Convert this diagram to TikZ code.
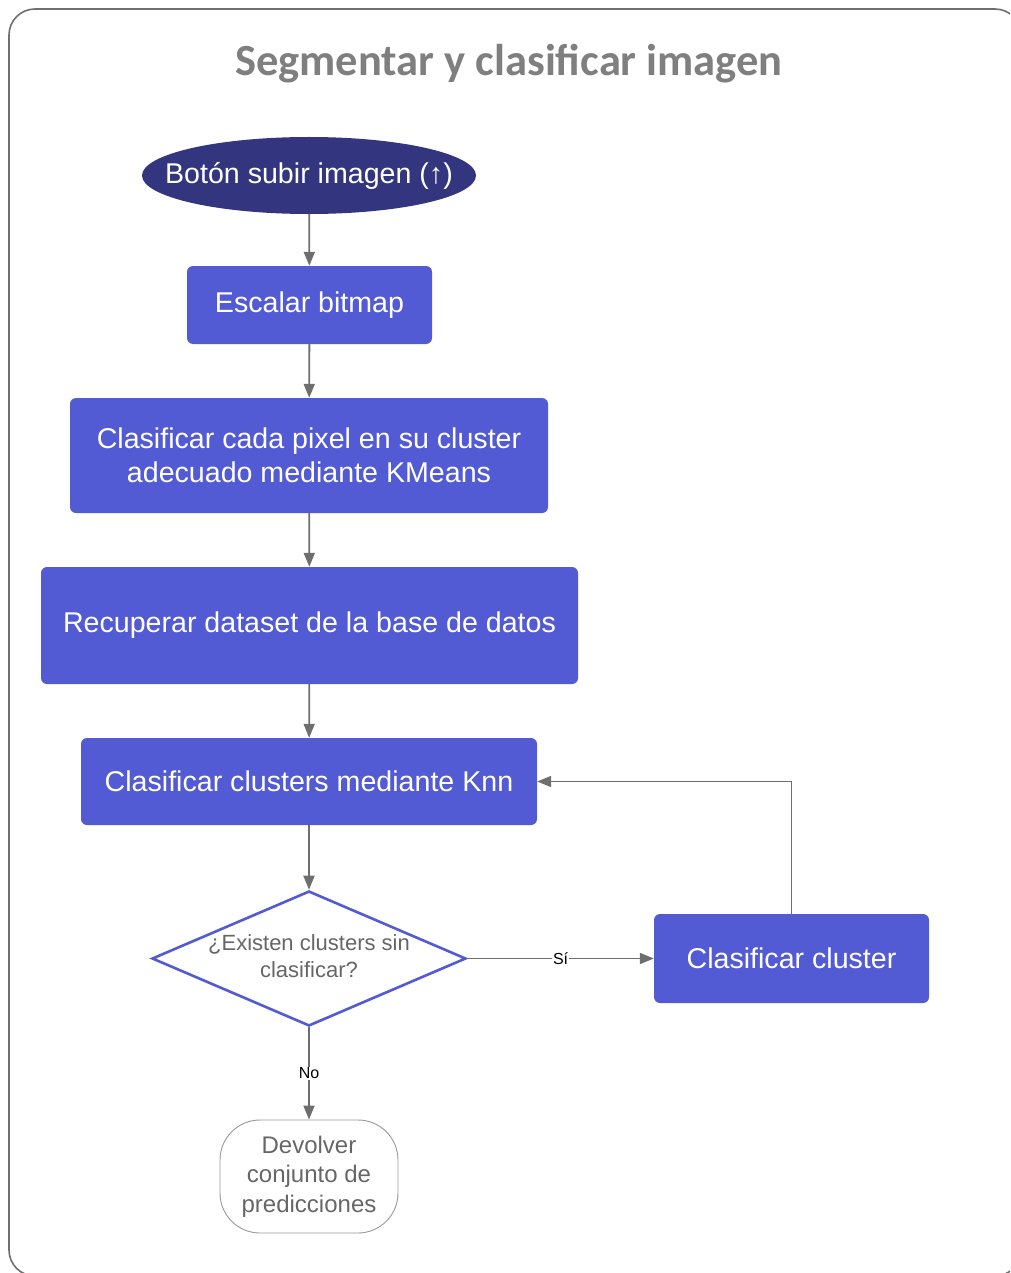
\documentclass[tikz,border=0pt]{standalone}
\usepackage{fontspec}
\setmainfont{Liberation Sans}
\newfontfamily\titlefont{Carlito}
\usetikzlibrary{shapes.geometric,arrows.meta}

\definecolor{framegray}{HTML}{707070}
\definecolor{titlegray}{HTML}{7F7F7F}
\definecolor{navy}{HTML}{33357E}
\definecolor{boxblue}{HTML}{525AD4}
\definecolor{linegray}{HTML}{6E6E6E}
\definecolor{textgray}{HTML}{666666}

\tikzset{
  x=1pt, y=1pt,
  bodyfont/.style={font=\fontsize{28.6}{34}\selectfont, text=white, align=center},
  body/.style={bodyfont, inner sep=0pt},
  startnode/.style={ellipse, fill=navy, minimum width=334, minimum height=77, inner sep=0pt},
  stepbox/.style={body, rectangle, rounded corners=6, fill=boxblue},
  decision/.style={diamond, draw=boxblue, line width=2.6, fill=white,
    minimum width=314, minimum height=135, inner sep=0pt},
  endnode/.style={rectangle, rounded corners=40, draw=black!40, line width=0.9,
    minimum width=178, minimum height=113, inner sep=0pt, align=center,
    text=textgray, font=\fontsize{24}{29.5}\selectfont},
  flow/.style={draw=linegray, line width=1.8, -{Triangle[length=14,width=11]}},
  edgelabel/.style={fill=white, inner sep=1pt, text=black, font=\fontsize{16}{18}\selectfont},
  heading/.style={font=\titlefont\bfseries\fontsize{44.5}{50}\selectfont, text=titlegray, anchor=base}
}

\begin{document}
\begin{tikzpicture}
  \useasboundingbox (0,0) rectangle (1010,-1273);
  % outer frame, running past the right and bottom edges
  \begin{scope}
    \clip (0,0) rectangle (1010,-1273);
    \draw[framegray, line width=1.6, rounded corners=26] (9,-9) rectangle (1021,-1276);
  \end{scope}

  \node[heading] (title) at (509,-76) {Segmentar y clasificar imagen};

  \node[startnode, label={[bodyfont, inner sep=0pt]center:Botón subir imagen (↑)}]
    (upload) at (309,-175.5) {};
  \node[stepbox, minimum width=245, minimum height=78] (scale) at (309.5,-305) {Escalar bitmap};
  \node[stepbox, minimum width=478, minimum height=115] (kmeans) at (309,-455.5)
    {Clasificar cada pixel en su cluster\\adecuado mediante KMeans};
  \node[stepbox, minimum width=537, minimum height=117] (dataset) at (309.5,-625.5)
    {Recuperar dataset de la base de datos};
  \node[stepbox, minimum width=456, minimum height=87] (knn) at (309,-781.5)
    {Clasificar clusters mediante Knn};
  \node[decision, label={[align=center, text=textgray, inner sep=0pt,
        font=\fontsize{22}{27}\selectfont, yshift=2]center:¿Existen clusters sin\\clasificar?}]
    (check) at (309,-958.5) {};
  \node[stepbox, minimum width=275, minimum height=89] (one) at (791.5,-958.5) {Clasificar cluster};
  \node[endnode] (result) at (309,-1176.5) {Devolver\\conjunto de\\predicciones};

  \draw[flow] (upload) -- (scale);
  \draw[flow] (scale) -- (kmeans);
  \draw[flow] (kmeans) -- (dataset);
  \draw[flow] (dataset) -- (knn);
  \draw[flow] (knn) -- (check);
  \draw[flow] (check.east) -- node[edgelabel] {Sí} (one.west);
  \draw[flow] (one.north) |- (knn.east);
  \draw[flow] (check.south) -- node[edgelabel] {No} (result.north);
\end{tikzpicture}
\end{document}
